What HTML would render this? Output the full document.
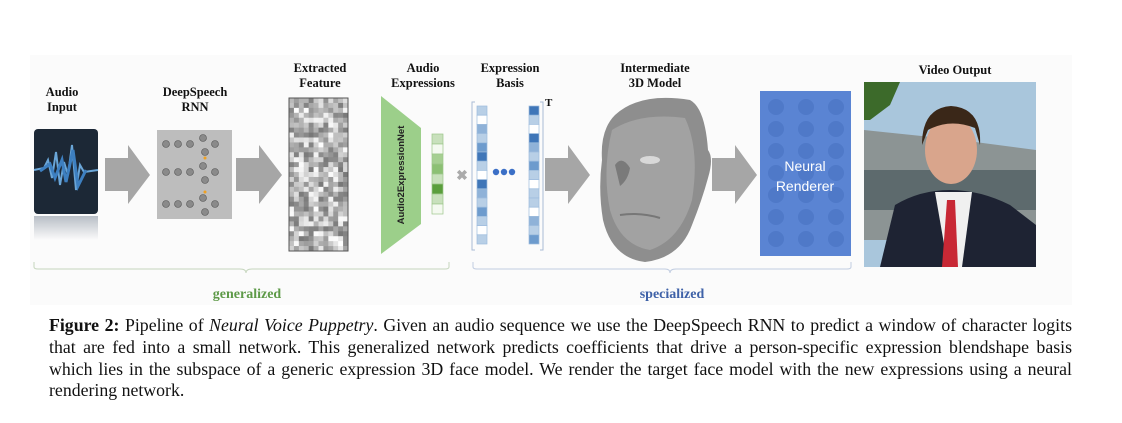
<!DOCTYPE html>
<html><head><meta charset="utf-8"><style>
body{margin:0;width:1122px;height:423px;background:#fff;position:relative;overflow:hidden;font-family:"Liberation Serif",serif}
.l{position:absolute;font-weight:bold;font-size:12.5px;text-align:center;line-height:15px;color:#111}
.cap{position:absolute;left:49px;width:1023px;font-size:17.8px;color:#111;text-align:justify;text-align-last:justify;white-space:nowrap;line-height:20px}
.cap.last{text-align-last:left}
</style></head><body>
<div style="position:absolute;left:30px;top:55px;width:1042px;height:250px;background:#fbfbfb"></div>
<svg width="1122" height="310" style="position:absolute;left:0;top:0" id="s">
<defs><linearGradient id="ref" x1="0" y1="0" x2="0" y2="1"><stop offset="0" stop-color="#b8bec6"/><stop offset="1" stop-color="#fbfbfb"/></linearGradient></defs>
<rect x="34" y="129" width="64" height="85" rx="4" fill="#1c2836"/>
<rect x="34" y="216" width="64" height="24" fill="url(#ref)"/>
<path d="M34 170 L44 168 L48 160 L52 178 L56 152 L60 185 L64 162 L68 175 L72 145 L76 190 L80 165 L84 172 L98 170" stroke="#6aa6d8" stroke-width="2" fill="none"/>
<path d="M40 171 L50 164 L55 178 L62 160 L66 182 L73 150 L78 186 L86 170" stroke="#3d7fc0" stroke-width="3" fill="none"/>
<g fill="#a6a6a6">
<path d="M105 158 H128 V145 L150 175 L128 204 V191 H105Z"/>
<path d="M236 158 H259 V145 L282 175 L259 204 V191 H236Z"/>
<path d="M545 158 H568 V145 L590 175 L568 204 V191 H545Z"/>
<path d="M712 158 H735 V145 L757 175 L735 204 V191 H712Z"/>
</g>
<rect x="157" y="130" width="75" height="89" fill="#bdbdbd"/>
<g fill="#8a8a8a" stroke="#555" stroke-width=".6">
<circle cx="166" cy="144" r="3.5"/><circle cx="178" cy="144" r="3.5"/><circle cx="190" cy="144" r="3.5"/><circle cx="203" cy="138" r="3.5"/><circle cx="205" cy="152" r="3.5"/><circle cx="215" cy="144" r="3.5"/>
<circle cx="166" cy="172" r="3.5"/><circle cx="178" cy="172" r="3.5"/><circle cx="190" cy="172" r="3.5"/><circle cx="203" cy="166" r="3.5"/><circle cx="205" cy="180" r="3.5"/><circle cx="215" cy="172" r="3.5"/>
<circle cx="166" cy="204" r="3.5"/><circle cx="178" cy="204" r="3.5"/><circle cx="190" cy="204" r="3.5"/><circle cx="203" cy="198" r="3.5"/><circle cx="205" cy="212" r="3.5"/><circle cx="215" cy="204" r="3.5"/>
</g>
<circle cx="205" cy="158" r="1.5" fill="#f0a020"/><circle cx="205" cy="192" r="1.5" fill="#f0a020"/>
<g id="grid"></g>
<rect x="289" y="98" width="59" height="153" fill="none" stroke="#555" stroke-width="1"/>
<path d="M381 96 L421 128 L421 224 L381 254Z" fill="#9ccf8a"/>
<text transform="translate(404,175) rotate(-90)" text-anchor="middle" font-family="Liberation Sans,sans-serif" font-weight="bold" font-size="9.5" fill="#222">Audio2ExpressionNet</text>
<g id="vec"></g>
<text x="462" y="180" text-anchor="middle" font-family="Liberation Sans,sans-serif" font-weight="bold" font-size="14" fill="#aaa">✖</text>
<path d="M475 102 H472 V250 H475" stroke="#aabbd6" fill="none"/>
<path d="M540 102 H543 V250 H540" stroke="#aabbd6" fill="none"/>
<g id="cols"></g>
<circle cx="496" cy="172" r="3.2" fill="#3b6fc6"/><circle cx="504" cy="172" r="3.2" fill="#3b6fc6"/><circle cx="512" cy="172" r="3.2" fill="#3b6fc6"/>
<text x="545" y="106" font-weight="bold" font-size="11" fill="#111">T</text>
<path d="M615 115 Q640 92 690 100 Q705 108 708 150 Q714 158 708 178 Q702 200 692 225 Q680 258 645 262 Q612 258 603 220 Q598 190 602 160 Q600 130 615 115Z" fill="#8e8e8e"/>
<path d="M612 130 Q640 112 685 118 Q700 150 692 200 Q680 240 650 250 Q620 245 610 210 Q602 170 612 130Z" fill="#a2a2a2"/>
<path d="M615 165 Q622 155 630 168 Q628 180 620 186Z" fill="#7a7a7a"/>
<ellipse cx="650" cy="160" rx="10" ry="4" fill="#d8d8d8"/>
<path d="M620 215 Q640 212 660 218" stroke="#777" stroke-width="2" fill="none"/>
<rect x="760" y="91" width="91" height="165" fill="#5a84d3"/>
<g fill="#4f79c8" id="nr"></g>
<text x="805" y="171" text-anchor="middle" font-family="Liberation Sans,sans-serif" font-size="14" fill="#fff">Neural</text>
<text x="805" y="191" text-anchor="middle" font-family="Liberation Sans,sans-serif" font-size="14" fill="#fff">Renderer</text>
<rect x="864" y="82" width="172" height="185" fill="#a9c6dc"/>
<path d="M864 130 L960 140 L1036 150 V240 H864Z" fill="#8c9494"/>
<rect x="864" y="170" width="172" height="40" fill="#5d6a6d"/>
<path d="M864 82 H900 L890 105 L870 120 L864 120Z" fill="#3c6a2a"/>
<path d="M895 205 Q920 190 950 190 Q980 190 1010 205 L1036 225 V267 H880Z" fill="#1e2333"/>
<path d="M935 192 L948 267 H962 L972 192Z" fill="#f0f0f0"/>
<path d="M947 200 L942 267 H958 L955 200Z" fill="#c82835"/>
<ellipse cx="951" cy="150" rx="26" ry="34" fill="#d9a58c"/>
<path d="M922 145 Q922 108 951 106 Q982 108 980 145 L975 128 Q950 118 928 130Z" fill="#3a2718"/>
<path d="M34 262 V267 Q34 269 38 269 H240 Q246 269 246 273 Q246 269 252 269 H445 Q449 269 449 267 V262" stroke="#c6d6be" fill="none"/>
<path d="M473 262 V267 Q473 269 477 269 H665 Q670 269 670 273 Q670 269 676 269 H847 Q851 269 851 267 V262" stroke="#c0cce0" fill="none"/>
<text x="247" y="298" text-anchor="middle" font-weight="bold" font-size="14" fill="#5e9a48">generalized</text>
<text x="672" y="298" text-anchor="middle" font-weight="bold" font-size="14" fill="#3f62a8">specialized</text>
</svg>
<div class="l" style="left:30px;top:85px;width:64px">Audio<br>Input</div>
<div class="l" style="left:140px;top:85px;width:110px">DeepSpeech<br>RNN</div>
<div class="l" style="left:280px;top:61px;width:80px">Extracted<br>Feature</div>
<div class="l" style="left:378px;top:61px;width:90px">Audio<br>Expressions</div>
<div class="l" style="left:470px;top:61px;width:80px">Expression<br>Basis</div>
<div class="l" style="left:600px;top:61px;width:110px">Intermediate<br>3D Model</div>
<div class="l" style="left:900px;top:63px;width:110px">Video Output</div>
<div class="cap" style="top:315px"><b>Figure 2:</b> Pipeline of <i>Neural Voice Puppetry</i>. Given an audio sequence we use the DeepSpeech RNN to predict a window of character logits</div>
<div class="cap" style="top:337px">that are fed into a small network. This generalized network predicts coefficients that drive a person-specific expression blendshape basis</div>
<div class="cap" style="top:359px">which lies in the subspace of a generic expression 3D face model. We render the target face model with the new expressions using a neural</div>
<div class="cap last" style="top:380px">rendering network.</div>
<script>
var ns="http://www.w3.org/2000/svg";
function r(g,x,y,w,h,f,s){var e=document.createElementNS(ns,"rect");e.setAttribute("x",x);e.setAttribute("y",y);e.setAttribute("width",w);e.setAttribute("height",h);e.setAttribute("fill",f);if(s){e.setAttribute("stroke",s);e.setAttribute("stroke-width",".7")}document.getElementById(g).appendChild(e);}
var seed=7;function rnd(){seed=(seed*9301+49297)%233280;return seed/233280;}
var cw=59/12,ch=153/31;
for(var i=0;i<12;i++)for(var j=0;j<31;j++){var v=Math.floor(120+rnd()*135);r("grid",289+i*cw,98+j*ch,cw+.3,ch+.3,"rgb("+v+","+v+","+v+")");}
var gc=["#c8e0bc","#f4f9f0","#a6cf92","#8cc074","#c8e0bc","#5a9e3c","#c8e0bc","#f4f9f0"];
for(var k=0;k<8;k++)r("vec",432,134+k*10,11,10,gc[k],"#9cc68a");
var bc=["#b8cfe6","#ffffff","#8fb2d8","#b8cfe6","#6d9bcd","#3f76b8","#b8cfe6","#ffffff","#3f76b8","#8fb2d8","#b8cfe6","#6d9bcd","#b8cfe6","#ffffff","#b8cfe6"];
for(var k=0;k<15;k++){r("cols",477,106+k*9.2,10,9.2,bc[k],"#9dbcdd");r("cols",529,106+k*9.2,10,9.2,bc[(k+5)%15],"#9dbcdd");}
for(var a=0;a<3;a++)for(var b=0;b<7;b++){var c=document.createElementNS(ns,"circle");c.setAttribute("cx",776+a*30);c.setAttribute("cy",107+b*22);c.setAttribute("r",8);document.getElementById("nr").appendChild(c);}
</script>
</body></html>
